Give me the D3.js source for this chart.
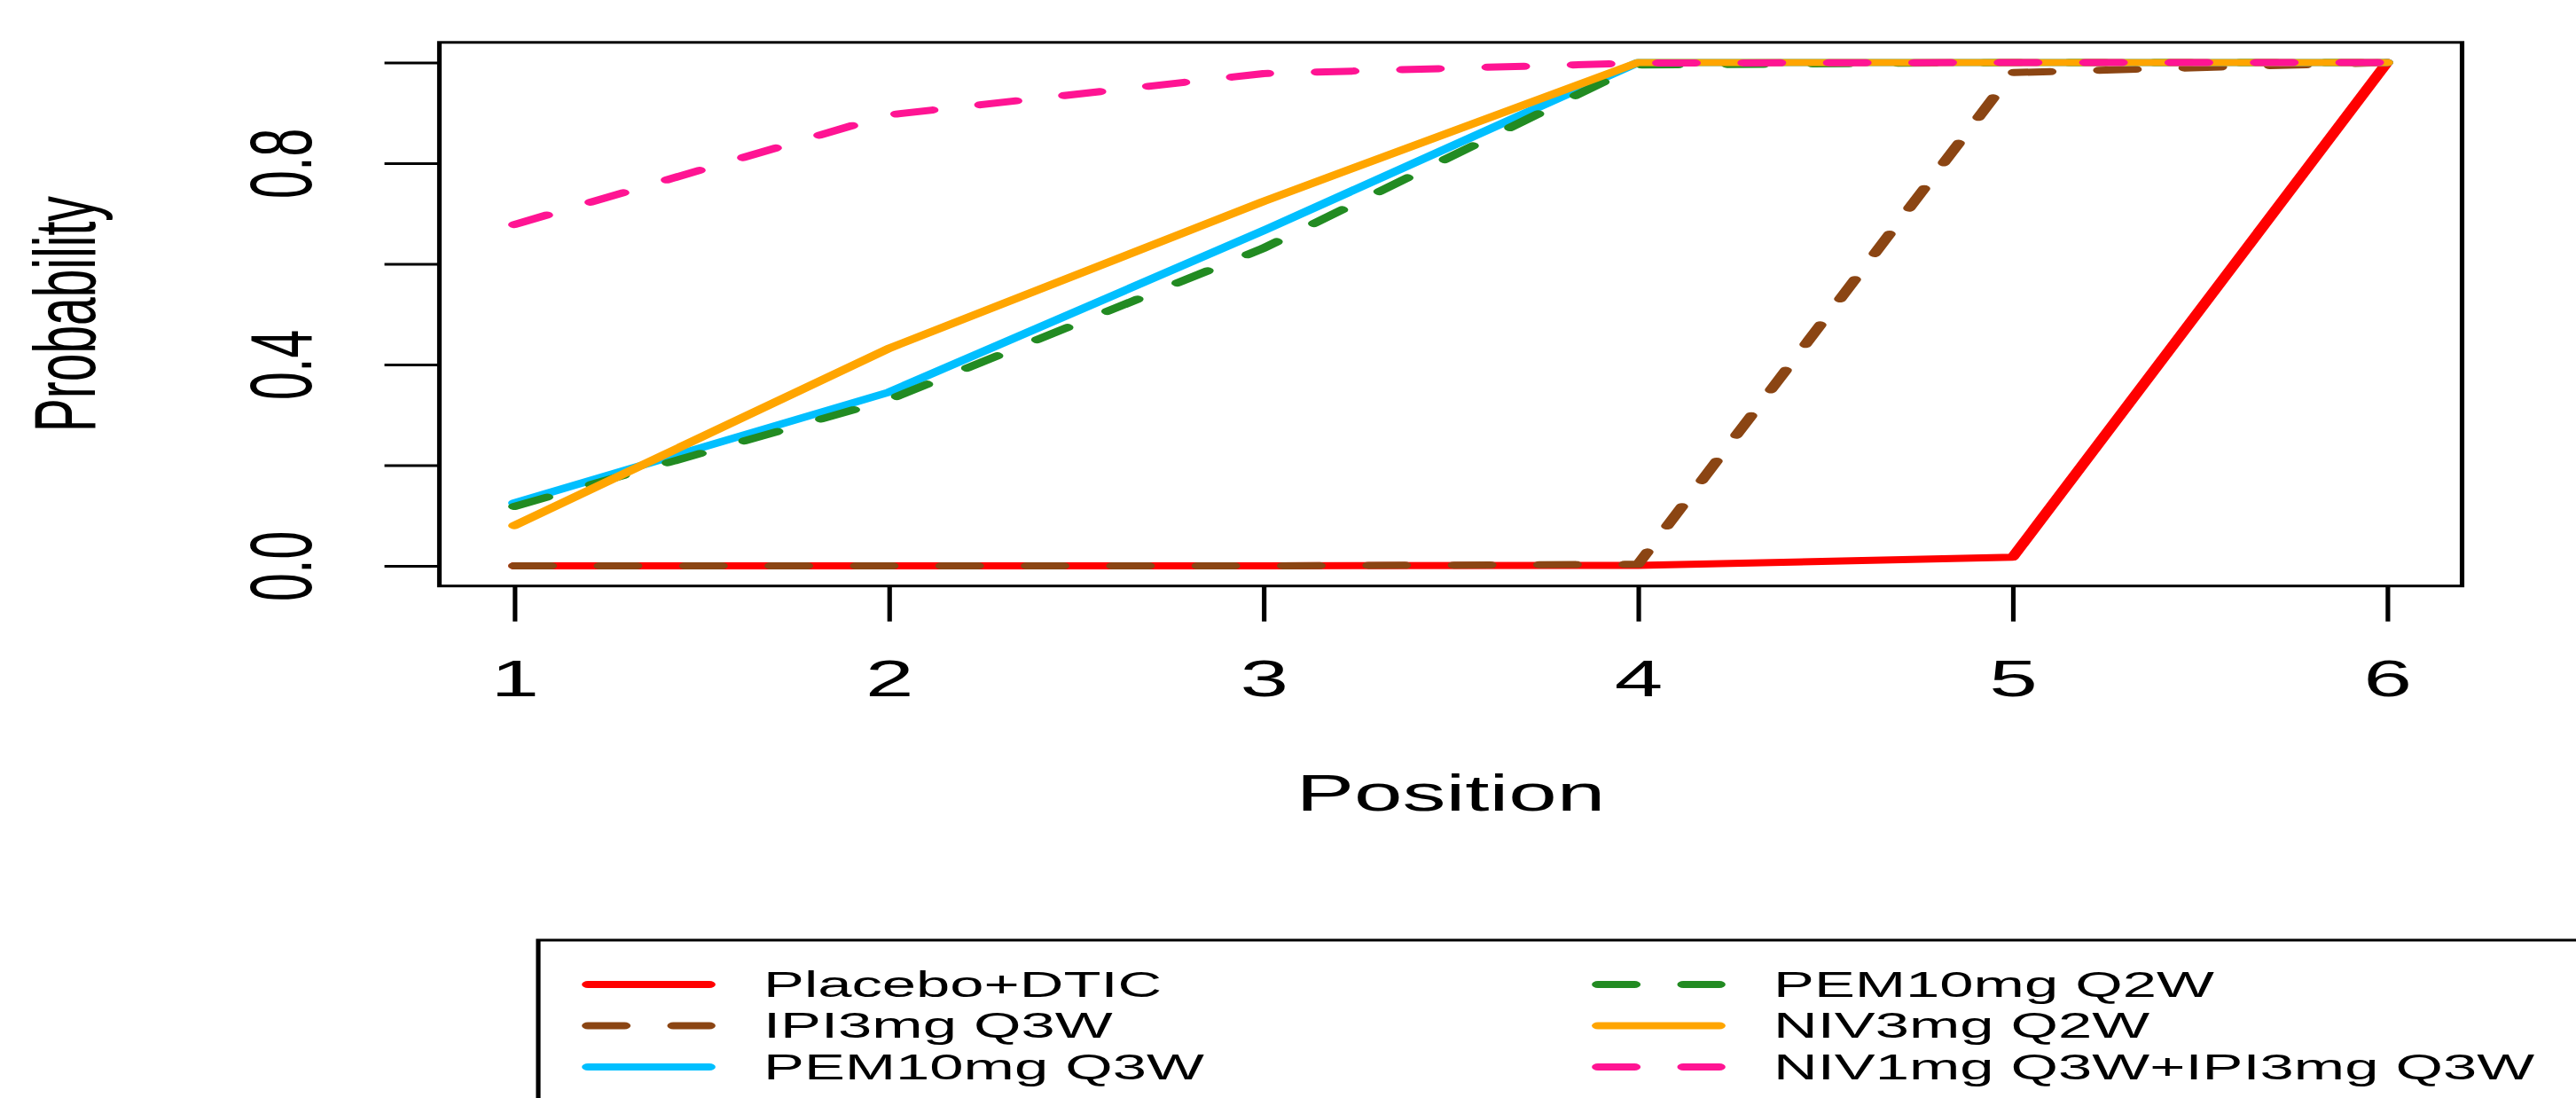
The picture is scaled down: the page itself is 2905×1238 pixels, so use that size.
<!DOCTYPE html>
<html>
<head>
<meta charset="utf-8">
<script src="https://cdn.jsdelivr.net/npm/d3@7"></script>
<style>
  html, body { margin: 0; padding: 0; background: #fff; }
  svg { display: block; }
  text { font-family: "Liberation Sans", Arial, sans-serif; fill: #000; }
</style>
</head>
<body>
<svg id="chart" width="2905" height="1238"></svg>
<script>
// ranking positions on the x axis
var positions = [1, 2, 3, 4, 5, 6];

// cumulative probability of each treatment being at or above a position
var placeboDtic = [0, 0, 0, 0.001, 0.017, 1];
var ipi3Q3w     = [0, 0, 0, 0.003, 0.98, 1];
var pem10Q3w    = [0.125, 0.345, 0.666, 1, 1, 1];
var pem10Q2w    = [0.118, 0.33, 0.631, 0.995, 1, 1];
var niv3Q2w     = [0.08, 0.432, 0.724, 1, 1, 1];
var niv1Ipi3    = [0.678, 0.896, 0.978, 0.999, 1, 1];

var seriesNames  = ["Placebo+DTIC", "IPI3mg Q3W", "PEM10mg Q3W", "PEM10mg Q2W", "NIV3mg Q2W", "NIV1mg Q3W+IPI3mg Q3W"];
var seriesColors = ["#FF0000", "#8B4513", "#00BFFF", "#228B22", "#FFA500", "#FF1493"];
var seriesDashed = [false, true, false, true, false, true];

var yTicks  = [0, 0.2, 0.4, 0.6, 0.8, 1];
var yLabels = ["0.0", "", "0.4", "", "0.8", ""];

var series = [placeboDtic, ipi3Q3w, pem10Q3w, pem10Q2w, niv3Q2w, niv1Ipi3];

// the original picture is stretched sideways, so draw in a stretched group
var SX = 1.72;
var svg = d3.select("#chart");
var g = svg.append("g").attr("transform", "scale(" + SX + ",1)");

var x = d3.scaleLinear().domain([0.8, 6.2]).range([495.5 / SX, 2776.5 / SX]);
var y = d3.scaleLinear().domain([-0.04, 1.04]).range([660.7, 47.8]);

// x axis
var xAxis = g.append("g")
    .attr("transform", "translate(0," + y.range()[0] + ")")
    .call(d3.axisBottom(x).tickValues(positions).tickSize(40).tickFormat(d3.format("d")));
xAxis.attr("font-family", null).attr("font-size", null);
xAxis.select(".domain").remove();
xAxis.selectAll("line").attr("stroke", "#000").attr("stroke-width", 3);
xAxis.selectAll("text")
    .attr("y", 124).attr("dy", null)
    .attr("font-size", 57);

// y axis
var yAxis = g.append("g")
    .attr("transform", "translate(" + x.range()[0] + ",0)")
    .call(d3.axisLeft(y).tickValues(yTicks).tickSize(36).tickFormat(function (d, i) { return yLabels[i]; }));
yAxis.attr("font-family", null).attr("font-size", null);
yAxis.select(".domain").remove();
yAxis.selectAll("line").attr("stroke", "#000").attr("stroke-width", 3);
yAxis.selectAll("text")
    .attr("x", 0).attr("y", 0).attr("dy", null)
    .attr("text-anchor", "middle")
    .attr("transform", "translate(-84,0) rotate(-90)")
    .attr("font-size", 57);

// plot box
g.append("rect")
    .attr("x", x.range()[0])
    .attr("y", y.range()[1])
    .attr("width", x.range()[1] - x.range()[0])
    .attr("height", y.range()[0] - y.range()[1])
    .attr("fill", "none")
    .attr("stroke", "#000")
    .attr("stroke-width", 3);

// axis titles
g.append("text")
    .attr("x", (x.range()[0] + x.range()[1]) / 2)
    .attr("y", 914)
    .attr("text-anchor", "middle")
    .attr("font-size", 57)
    .text("Position");

g.append("text")
    .attr("transform", "translate(62," + (y.range()[0] + y.range()[1]) / 2 + ") rotate(-90)")
    .attr("text-anchor", "middle")
    .attr("font-size", 57)
    .text("Probability");

// lines
var line = d3.line()
    .x(function (d, i) { return x(positions[i]); })
    .y(function (d) { return y(d); });

g.selectAll(".series")
    .data(series)
    .enter().append("path")
    .attr("class", "series")
    .attr("d", line)
    .attr("fill", "none")
    .attr("stroke", function (d, i) { return seriesColors[i]; })
    .attr("stroke-width", 8)
    .attr("stroke-linecap", "round")
    .attr("stroke-linejoin", "round")
    .attr("stroke-dasharray", function (d, i) { return seriesDashed[i] ? "24,32" : null; });

// legend
var legendLeft = 607 / SX;
var legendTop = 1060;
var rowY = [1110, 1156.5, 1203];
var symX = [663 / SX, 1802 / SX];
var symLen = 137 / SX;
var textX = [861 / SX, 2000 / SX];

g.append("rect")
    .attr("x", legendLeft)
    .attr("y", legendTop)
    .attr("width", 3000)
    .attr("height", 400)
    .attr("fill", "none")
    .attr("stroke", "#000")
    .attr("stroke-width", 3);

var items = g.selectAll(".legend-item")
    .data(seriesNames)
    .enter().append("g")
    .attr("class", "legend-item");

items.append("line")
    .attr("x1", function (d, i) { return symX[Math.floor(i / 3)]; })
    .attr("x2", function (d, i) { return symX[Math.floor(i / 3)] + symLen; })
    .attr("y1", function (d, i) { return rowY[i % 3]; })
    .attr("y2", function (d, i) { return rowY[i % 3]; })
    .attr("stroke", function (d, i) { return seriesColors[i]; })
    .attr("stroke-width", 8)
    .attr("stroke-linecap", "round")
    .attr("stroke-dasharray", function (d, i) { return seriesDashed[i] ? "24,32" : null; });

items.append("text")
    .attr("x", function (d, i) { return textX[Math.floor(i / 3)]; })
    .attr("y", function (d, i) { return rowY[i % 3] + 14; })
    .attr("font-size", 40)
    .text(function (d) { return d; });
</script>
</body>
</html>
